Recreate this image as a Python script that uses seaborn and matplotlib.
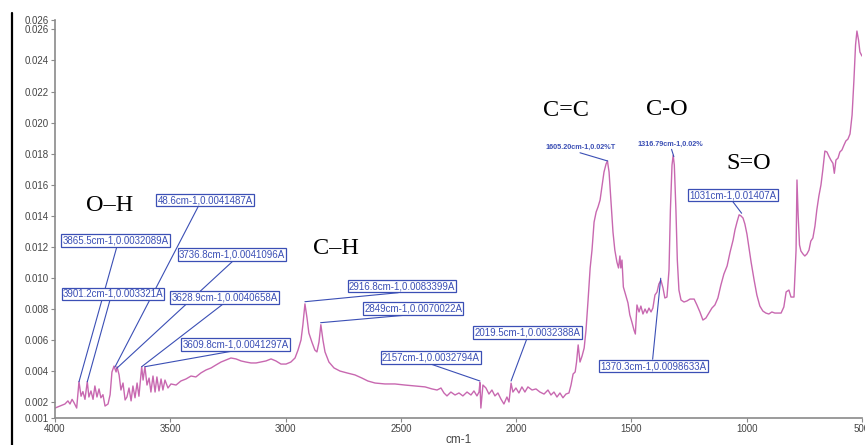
import numpy as np
import pandas as pd
import matplotlib
matplotlib.use("Agg")
import matplotlib.pyplot as plt
import seaborn as sns
from matplotlib import font_manager
from matplotlib.lines import Line2D

# ---------------- data ----------------
wavenumber = [
    4000, 3978, 3957, 3944, 3935, 3926, 3918, 3906, 3896, 3887, 3879, 3870, 3860, 3853, 3844, 3835,
    3827, 3818, 3809, 3801, 3792, 3783, 3770, 3761, 3753, 3744, 3735, 3731, 3722, 3714, 3705, 3696,
    3688, 3679, 3670, 3662, 3653, 3644, 3636, 3624, 3618, 3610, 3601, 3592, 3584, 3575, 3566, 3558,
    3549, 3540, 3532, 3523, 3510, 3497, 3475, 3454, 3432, 3410, 3389, 3367, 3345, 3323, 3302, 3280,
    3258, 3237, 3215, 3193, 3172, 3150, 3128, 3107, 3085, 3063, 3042, 3020, 2998, 2977, 2959, 2946,
    2933, 2925, 2916, 2907, 2899, 2886, 2873, 2864, 2855, 2847, 2838, 2829, 2812, 2790, 2764, 2734,
    2699, 2669, 2643, 2612, 2569, 2526, 2482, 2439, 2395, 2365, 2343, 2326, 2313, 2300, 2283, 2265,
    2248, 2231, 2213, 2196, 2183, 2170, 2161, 2157, 2153, 2144, 2131, 2118, 2105, 2092, 2079, 2066,
    2053, 2040, 2031, 2022, 2014, 2001, 1988, 1975, 1962, 1949, 1931, 1914, 1897, 1879, 1862, 1849,
    1836, 1823, 1810, 1797, 1784, 1771, 1762, 1753, 1744, 1738, 1731, 1723, 1714, 1705, 1697, 1688,
    1679, 1671, 1662, 1653, 1645, 1636, 1627, 1619, 1610, 1604, 1597, 1589, 1580, 1572, 1563, 1556,
    1550, 1546, 1541, 1535, 1524, 1515, 1507, 1498, 1489, 1483, 1476, 1467, 1459, 1450, 1441, 1433,
    1424, 1415, 1407, 1398, 1389, 1381, 1372, 1363, 1355, 1346, 1337, 1331, 1324, 1319, 1314, 1307,
    1301, 1294, 1285, 1272, 1259, 1246, 1228, 1216, 1203, 1190, 1177, 1164, 1151, 1138, 1125, 1112,
    1099, 1085, 1072, 1059, 1051, 1042, 1033, 1025, 1016, 1008, 999, 990, 981, 968, 956, 943,
    930, 917, 904, 891, 878, 864, 851, 839, 829, 817, 808, 795, 786, 782, 777, 771,
    765, 756, 748, 739, 730, 722, 713, 704, 696, 687, 678, 670, 661, 652, 644, 635,
    626, 620, 613, 604, 596, 587, 578, 570, 561, 552, 543, 535, 528, 522, 515, 509,
    500,
]
absorbance = [
    0.00164, 0.00177, 0.00190, 0.00210, 0.00190, 0.00220, 0.00200, 0.00164, 0.00334, 0.00240, 0.00270, 0.00220, 0.00334, 0.00235, 0.00274, 0.00220,
    0.00306, 0.00235, 0.00287, 0.00230, 0.00250, 0.00177, 0.00190, 0.00250, 0.00396, 0.00434, 0.00396, 0.00430, 0.00377, 0.00280, 0.00325, 0.00216,
    0.00235, 0.00293, 0.00210, 0.00306, 0.00230, 0.00325, 0.00240, 0.00430, 0.00344, 0.00430, 0.00312, 0.00357, 0.00267, 0.00370, 0.00267, 0.00364,
    0.00274, 0.00351, 0.00280, 0.00344, 0.00293, 0.00319, 0.00312, 0.00338, 0.00351, 0.00370, 0.00364, 0.00390, 0.00409, 0.00422, 0.00441, 0.00460,
    0.00473, 0.00486, 0.00480, 0.00467, 0.00460, 0.00454, 0.00454, 0.00460, 0.00467, 0.00480, 0.00467, 0.00447, 0.00447, 0.00460, 0.00486, 0.00537,
    0.00602, 0.00698, 0.00834, 0.00743, 0.00647, 0.00589, 0.00537, 0.00525, 0.00589, 0.00700, 0.00602, 0.00525, 0.00460, 0.00422, 0.00402, 0.00390,
    0.00377, 0.00357, 0.00338, 0.00325, 0.00319, 0.00319, 0.00312, 0.00306, 0.00300, 0.00287, 0.00280, 0.00293, 0.00261, 0.00242, 0.00267, 0.00248,
    0.00261, 0.00242, 0.00267, 0.00248, 0.00274, 0.00242, 0.00267, 0.00328, 0.00164, 0.00312, 0.00293, 0.00254, 0.00280, 0.00242, 0.00261, 0.00222,
    0.00190, 0.00235, 0.00203, 0.00324, 0.00267, 0.00293, 0.00261, 0.00300, 0.00267, 0.00300, 0.00280, 0.00287, 0.00267, 0.00254, 0.00280, 0.00248,
    0.00267, 0.00235, 0.00261, 0.00230, 0.00254, 0.00261, 0.00312, 0.00383, 0.00396, 0.00460, 0.00570, 0.00460, 0.00499, 0.00550, 0.00666, 0.00859,
    0.01065, 0.01180, 0.01360, 0.01425, 0.01457, 0.01502, 0.01599, 0.01682, 0.01734, 0.01753, 0.01682, 0.01502, 0.01296, 0.01180, 0.01103, 0.01065,
    0.01142, 0.01065, 0.01116, 0.00943, 0.00885, 0.00840, 0.00763, 0.00717, 0.00666, 0.00640, 0.00827, 0.00782, 0.00820, 0.00769, 0.00801, 0.00775,
    0.00807, 0.00782, 0.00807, 0.00891, 0.00910, 0.00962, 0.00986, 0.00936, 0.00872, 0.00878, 0.01052, 0.01438, 0.01727, 0.01790, 0.01727, 0.01438,
    0.01116, 0.00923, 0.00859, 0.00846, 0.00853, 0.00865, 0.00865, 0.00827, 0.00782, 0.00730, 0.00743, 0.00775, 0.00807, 0.00827, 0.00872, 0.00955,
    0.01026, 0.01078, 0.01168, 0.01245, 0.01309, 0.01361, 0.01407, 0.01400, 0.01386, 0.01348, 0.01283, 0.01193, 0.01103, 0.00988, 0.00891, 0.00820,
    0.00788, 0.00775, 0.00769, 0.00782, 0.00775, 0.00775, 0.00775, 0.00814, 0.00911, 0.00923, 0.00878, 0.00878, 0.01180, 0.01631, 0.01406, 0.01213,
    0.01174, 0.01155, 0.01142, 0.01155, 0.01180, 0.01238, 0.01258, 0.01335, 0.01438, 0.01528, 0.01599, 0.01695, 0.01817, 0.01811, 0.01785, 0.01759,
    0.01738, 0.01674, 0.01759, 0.01772, 0.01811, 0.01824, 0.01856, 0.01882, 0.01894, 0.01927, 0.02049, 0.02274, 0.02499, 0.02589, 0.02531, 0.02454,
    0.02428,
]

x_ticks = [4000, 3500, 3000, 2500, 2000, 1500, 1000, 500]
y_ticks = [0.001, 0.002, 0.004, 0.006, 0.008, 0.010, 0.012, 0.014, 0.016,
           0.018, 0.020, 0.022, 0.024, 0.026]
y_top = 0.0266
x_label = "cm-1"

# boxed peak annotations: text, peak point (wn, A)
box_texts = [
    "3865.5cm-1,0.0032089A", "3901.2cm-1,0.003321A", "48.6cm-1,0.0041487A",
    "3736.8cm-1,0.0041096A", "3628.9cm-1,0.0040658A", "3609.8cm-1,0.0041297A",
    "2916.8cm-1,0.0083399A", "2849cm-1,0.0070022A", "2157cm-1,0.0032794A",
    "2019.5cm-1,0.0032388A", "1370.3cm-1,0.0098633A", "1031cm-1,0.01407A",
]
box_peak_wn = [3896, 3860, 3740, 3732, 3624, 3610, 2916, 2848, 2157, 2022, 1373, 1022]
box_peak_a = [0.00333, 0.00333, 0.00428, 0.00420, 0.00430, 0.00430,
              0.00848, 0.00713, 0.00338, 0.00338, 0.00999, 0.01417]
# layout: box centre and leader start (data coordinates)
box_center = [(3737.6, 0.01242), (3748.5, 0.00898), (3349.5, 0.01502),
              (3232, 0.01152), (3265, 0.00875), (3217, 0.00573),
              (2495, 0.00949), (2447, 0.00804), (2369.5, 0.00489),
              (1951, 0.00650), (1404.5, 0.00434), (1060, 0.01534)]
box_lead = [(3732, 0.0120), (3761.5, 0.00859), (3380, 0.01457),
            (3228, 0.0111), (3273, 0.00831), (3228, 0.00531),
            (2511, 0.00906), (2475, 0.00762), (2366.5, 0.00445),
            (1954.5, 0.00606), (1408, 0.00478), (1060, 0.01491)]

small_texts = ["1605.20cm-1,0.02%T", "1316.79cm-1,0.02%"]
small_peak_wn = [1603, 1316]
small_peak_a = [0.01753, 0.01781]
small_center = [(1719, 0.01843), (1333, 0.01862)]
small_lead = [(1723, 0.01806), (1326, 0.01828)]

groups = ["O\u2013H", "C\u2013H", "C=C", "C-O", "S=O"]
group_pos = [(3761.5, 0.01470), (2781, 0.01193), (1786, 0.02075),
             (1346, 0.02087), (993, 0.01737)]

# ---------------- style ----------------
sns.set_theme(style="ticks")
names = {f.name for f in font_manager.fontManager.ttflist}
if "Liberation Sans Narrow" in names:
    narrow = "Liberation Sans Narrow"
    tick_fs, box_fs = 8, 8
else:
    narrow = "Liberation Sans"
    tick_fs, box_fs = 7, 7
plt.rcParams["font.family"] = [narrow, "DejaVu Sans"]

W, H = 865, 445
fig = plt.figure(figsize=(W / 100, H / 100), dpi=100, facecolor="white")
ax = fig.add_axes([55 / W, (H - 418) / H, 807 / W, 398 / H])

df = pd.DataFrame({"wn": wavenumber, "A": absorbance})
sns.lineplot(data=df, x="wn", y="A", sort=False, estimator=None,
             color="#c868b0", linewidth=1.0, ax=ax)

ax.set_xlim(4000, 500)
ax.set_ylim(0.001, y_top)
ax.set_xticks(x_ticks)
ax.set_xticklabels([str(v) for v in x_ticks])
yt = y_ticks + [y_top]
ax.set_yticks(yt)
ax.set_yticklabels([f"{v:.3f}" for v in y_ticks] + ["0.026"])
ax.set_xlabel(x_label, fontsize=8.5, color="#444444", labelpad=0)
ax.set_ylabel("")

for s in ["top", "right"]:
    ax.spines[s].set_visible(False)
for s in ["left", "bottom"]:
    ax.spines[s].set_color("#8a8a8a")
    ax.spines[s].set_linewidth(1.2)
ax.tick_params(axis="both", direction="out", length=3, width=0.8,
               colors="#8a8a8a", labelcolor="#444444", labelsize=tick_fs, pad=1.5)

blue = "#3b4fb5"
for t, pw, pa, c, l in zip(box_texts, box_peak_wn, box_peak_a, box_center, box_lead):
    ax.plot([l[0], pw], [l[1], pa], color=blue, lw=0.8, zorder=3)
    ax.text(c[0], c[1], t, ha="center", va="center", fontsize=box_fs, color=blue,
            zorder=4,
            bbox=dict(boxstyle="square,pad=0.12", fc="white", ec=blue, lw=0.9))

for t, pw, pa, c, l in zip(small_texts, small_peak_wn, small_peak_a, small_center, small_lead):
    ax.plot([l[0], pw], [l[1], pa], color=blue, lw=0.8, zorder=3)
    ax.text(c[0], c[1], t, ha="center", va="center", fontsize=5.2, color=blue,
            fontweight="bold", zorder=4)

for g, p in zip(groups, group_pos):
    ax.text(p[0], p[1], g, ha="center", va="center", fontsize=17.5, color="black",
            family=["Liberation Serif", "DejaVu Serif"], zorder=4)

# page border line on the left
fig.add_artist(Line2D([12 / W, 12 / W], [0, 1 - 13 / H], color="black", lw=1.6))

fig.savefig("out.png", dpi=100, facecolor="white")
